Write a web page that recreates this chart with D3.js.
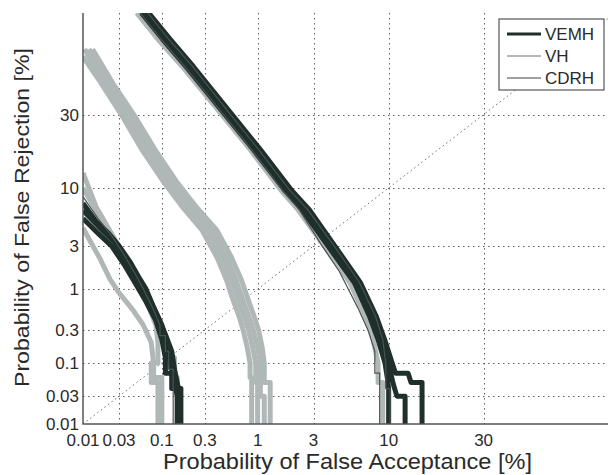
<!DOCTYPE html>
<html>
<head>
<meta charset="utf-8">
<script src="https://cdn.jsdelivr.net/npm/d3@7"></script>
<style>
  body { margin: 0; background: #fff; }
  text { font-family: "Liberation Sans", Arial, sans-serif; fill: #2a2a2a; }
</style>
</head>
<body>
<script>
// tick labels (percent)
const xTicks = [0.01, 0.03, 0.1, 0.3, 1, 3, 10, 30];
const yTicks = [0.01, 0.03, 0.1, 0.3, 1, 3, 10, 30];
const systems = ["VEMH", "VH", "CDRH"];

// DET curves, [false acceptance %, false rejection %]
// right bundle
const vemhRight1 = [[0.063,70],[0.113,60],[0.205,49],[0.525,30],[0.98,18.8],[1.84,9.7],[2.6,6.6],[4.3,2.75],[6.3,1.19],[8.0,0.45],[9.0,0.22],[10,0.1],[10.6,0.05],[11.2,0.03],[12.5,0.03],[12.5,0.01]];
const vemhRight2 = [[0.07,70],[0.125,60],[0.225,49],[0.57,30],[1.06,18.8],[1.97,9.7],[2.78,6.6],[4.55,2.75],[6.6,1.19],[8.4,0.45],[9.45,0.22],[10.5,0.1],[11,0.07],[13,0.07],[13.5,0.05],[15.5,0.05],[15.5,0.01]];
const vemhRight3 = [[0.057,70],[0.102,60],[0.186,49],[0.485,30],[0.91,18.8],[1.72,9.7],[2.43,6.6],[4.05,2.75],[6.0,1.19],[7.6,0.45],[8.6,0.22],[9.5,0.1],[9.8,0.06],[10,0.04],[10,0.01]];
const cdrhRight1 = [[0.055,70],[0.098,60],[0.18,49],[0.47,30],[0.88,18.8],[1.65,9.7],[2.3,6.6],[3.5,3.0],[4.7,1.6],[6.3,0.6],[7.4,0.3],[8.2,0.15],[8.2,0.07],[8.8,0.07],[8.8,0.01]];
const cdrhRight2 = [[0.068,70],[0.12,60],[0.22,49],[0.55,30],[1.02,18.8],[1.9,9.7],[2.7,6.6],[4.5,2.75],[6.5,1.19],[8.3,0.45],[9.2,0.22],[9.6,0.1],[9.6,0.04],[10.2,0.04],[10.2,0.01]];
const vhRight1 = [[0.05,70],[0.09,60],[0.17,49],[0.45,30],[0.85,18.8],[1.6,9.7],[2.25,6.6],[3.8,2.75],[5.6,1.19],[7.1,0.45],[8.0,0.22],[8.6,0.1],[8.6,0.05],[9.2,0.05],[9.2,0.01]];
// middle bundle
const vhMid1 = [[0.0105,56],[0.02,42],[0.036,30],[0.065,19],[0.12,11],[0.2,6.8],[0.32,4.3],[0.45,2.3],[0.56,1.3],[0.64,0.8],[0.75,0.45],[0.82,0.3],[0.9,0.17],[0.96,0.1],[0.96,0.05],[1.0,0.05],[1.0,0.01]];
const vhMid2 = [[0.012,56],[0.0226,42],[0.041,30],[0.073,19],[0.135,11],[0.225,6.8],[0.36,4.3],[0.5,2.3],[0.62,1.3],[0.71,0.8],[0.83,0.45],[0.91,0.3],[1.0,0.17],[1.06,0.1],[1.06,0.03],[1.15,0.03],[1.15,0.01]];
const vhMid3 = [[0.01,53],[0.0176,42],[0.032,30],[0.057,19],[0.106,11],[0.176,6.8],[0.28,4.3],[0.4,2.3],[0.5,1.3],[0.57,0.8],[0.67,0.45],[0.73,0.3],[0.8,0.17],[0.85,0.1],[0.85,0.06],[0.88,0.06],[0.88,0.01]];
const vhMid4 = [[0.0135,56],[0.025,42],[0.046,30],[0.082,19],[0.15,11],[0.25,6.8],[0.4,4.3],[0.56,2.3],[0.7,1.3],[0.8,0.8],[0.93,0.45],[1.02,0.3],[1.1,0.17],[1.15,0.1],[1.15,0.05],[1.3,0.05],[1.3,0.01]];
// left bundle
const vemhLeft1 = [[0.01,7.5],[0.015,5.2],[0.022,4.0],[0.03,3.0],[0.042,2.0],[0.055,1.3],[0.065,1.0],[0.08,0.6],[0.1,0.35],[0.115,0.2],[0.125,0.1],[0.14,0.05],[0.15,0.03],[0.15,0.01]];
const vemhLeft2 = [[0.01,5.5],[0.016,4.0],[0.024,3.0],[0.035,1.9],[0.05,1.1],[0.065,0.7],[0.085,0.4],[0.1,0.22],[0.11,0.12],[0.11,0.07],[0.13,0.07],[0.13,0.04],[0.16,0.04],[0.16,0.01]];
const vemhLeft3 = [[0.01,6.5],[0.017,4.5],[0.026,3.3],[0.038,2.1],[0.052,1.3],[0.07,0.8],[0.09,0.45],[0.11,0.26],[0.13,0.15],[0.14,0.08],[0.155,0.04],[0.165,0.04],[0.165,0.01]];
const cdrhLeft1 = [[0.01,8.5],[0.016,5.5],[0.024,3.8],[0.034,2.5],[0.048,1.5],[0.062,0.95],[0.08,0.55],[0.095,0.35],[0.095,0.25],[0.11,0.25],[0.11,0.15],[0.12,0.15],[0.12,0.08],[0.135,0.08],[0.135,0.01]];
const vhLeft1 = [[0.01,13],[0.012,10],[0.015,7],[0.02,5],[0.027,3.4],[0.036,2.3],[0.048,1.5],[0.065,0.9],[0.085,0.5],[0.1,0.3],[0.11,0.2],[0.11,0.12],[0.14,0.12],[0.14,0.06],[0.15,0.06],[0.15,0.01]];
const vhLeft2 = [[0.01,10],[0.014,7],[0.02,4.6],[0.028,3.0],[0.04,1.8],[0.055,1.05],[0.07,0.6],[0.085,0.35],[0.09,0.2],[0.09,0.1],[0.075,0.1],[0.075,0.05],[0.09,0.05],[0.09,0.01]];
const vhLeft3 = [[0.01,4.5],[0.013,3.2],[0.017,2.2],[0.023,1.3],[0.03,0.9],[0.045,0.55],[0.06,0.35],[0.075,0.2],[0.08,0.1],[0.08,0.06],[0.1,0.06],[0.1,0.01]];

const vemhCurves = [vemhRight1, vemhRight2, vemhRight3, vemhLeft1, vemhLeft2, vemhLeft3];
const vhCurves = [vhMid1, vhMid2, vhMid3, vhMid4, vhRight1, vhLeft1, vhLeft2, vhLeft3];
const cdrhCurves = [cdrhRight1, cdrhRight2, cdrhLeft1];

// inverse normal cdf (Acklam)
function probit(p) {
    const a = [-3.969683028665376e+01, 2.209460984245205e+02, -2.759285104469687e+02, 1.383577518672690e+02, -3.066479806614716e+01, 2.506628277459239e+00];
    const b = [-5.447609879822406e+01, 1.615858368580409e+02, -1.556989798598866e+02, 6.680131188771972e+01, -1.328068155288572e+01];
    const c = [-7.784894002430293e-03, -3.223964580411365e-01, -2.400758277161838e+00, -2.549732539343734e+00, 4.374664141464968e+00, 2.938163982698783e+00];
    const d = [7.784695709041462e-03, 3.224671290700398e-01, 2.445134137142996e+00, 3.754408661907416e+00];
    const plow = 0.02425;
    let q, r;
    if (p < plow) {
        q = Math.sqrt(-2 * Math.log(p));
        return (((((c[0]*q+c[1])*q+c[2])*q+c[3])*q+c[4])*q+c[5]) / ((((d[0]*q+d[1])*q+d[2])*q+d[3])*q+1);
    } else if (p <= 1 - plow) {
        q = p - 0.5; r = q * q;
        return (((((a[0]*r+a[1])*r+a[2])*r+a[3])*r+a[4])*r+a[5])*q / (((((b[0]*r+b[1])*r+b[2])*r+b[3])*r+b[4])*r+1);
    }
    q = Math.sqrt(-2 * Math.log(1 - p));
    return -(((((c[0]*q+c[1])*q+c[2])*q+c[3])*q+c[4])*q+c[5]) / ((((d[0]*q+d[1])*q+d[2])*q+d[3])*q+1);
}

const width = 615, height = 475;
const plotLeft = 83, plotRight = 608, plotTop = 13, plotBottom = 424;

const xs = d3.scaleLinear().domain([probit(0.0001), probit(0.68)]).range([plotLeft, plotRight]);
const ys = d3.scaleLinear().domain([probit(0.0001), probit(0.70)]).range([plotBottom, plotTop]);
const x = v => xs(probit(v / 100));
const y = v => ys(probit(v / 100));
const crisp = v => Math.round(v) + 0.5;

const svg = d3.create("svg")
    .attr("width", width)
    .attr("height", height)
    .style("background", "#fff");

svg.append("clipPath").attr("id", "plot")
    .append("rect")
    .attr("x", plotLeft).attr("y", plotTop)
    .attr("width", plotRight - plotLeft).attr("height", plotBottom - plotTop);

// dotted grid
const grid = svg.append("g")
    .attr("stroke", "#5e5e5e")
    .attr("stroke-width", 1)
    .attr("stroke-dasharray", "1.5,3.5");
grid.selectAll(".vx")
    .data(xTicks.slice(1))
    .join("line")
    .attr("class", "vx")
    .attr("x1", d => crisp(x(d))).attr("x2", d => crisp(x(d)))
    .attr("y1", plotTop).attr("y2", plotBottom);
grid.selectAll(".hy")
    .data(yTicks.slice(1))
    .join("line")
    .attr("class", "hy")
    .attr("x1", plotLeft).attr("x2", plotRight)
    .attr("y1", d => crisp(y(d))).attr("y2", d => crisp(y(d)));

// equal error line
svg.append("line")
    .attr("clip-path", "url(#plot)")
    .attr("x1", x(0.01)).attr("y1", y(0.01))
    .attr("x2", x(68)).attr("y2", y(68))
    .attr("stroke", "#6e6e6e")
    .attr("stroke-dasharray", "1.5,3");

const line = d3.line().x(d => x(d[0])).y(d => y(d[1]));
const curves = svg.append("g").attr("clip-path", "url(#plot)").attr("fill", "none")
    .attr("stroke-linejoin", "round");

curves.selectAll(".vh")
    .data(vhCurves)
    .join("path")
    .attr("class", "vh")
    .attr("d", line)
    .attr("stroke", "#b0b8b7")
    .attr("stroke-width", 5);

curves.selectAll(".vemh")
    .data(vemhCurves)
    .join("path")
    .attr("class", "vemh")
    .attr("d", line)
    .attr("stroke", "#1f2f2b")
    .attr("stroke-width", 5);

curves.selectAll(".cdrh")
    .data(cdrhCurves)
    .join("path")
    .attr("class", "cdrh")
    .attr("d", line)
    .attr("stroke", "#4a5351")
    .attr("stroke-width", 1.2);

// axes
svg.append("path")
    .attr("d", `M${plotLeft},${plotTop}V${plotBottom}H${plotRight}`)
    .attr("fill", "none")
    .attr("stroke", "#555")
    .attr("stroke-width", 1.5);

svg.append("g")
    .selectAll("text")
    .data(xTicks)
    .join("text")
    .attr("x", d => x(d))
    .attr("y", 446)
    .attr("text-anchor", "middle")
    .attr("font-size", 17)
    .text(d => d);

svg.append("g")
    .selectAll("text")
    .data(yTicks)
    .join("text")
    .attr("x", 79)
    .attr("y", d => y(d) + 6)
    .attr("text-anchor", "end")
    .attr("font-size", 17)
    .text(d => d);

svg.append("text")
    .attr("x", 163)
    .attr("y", 469)
    .attr("font-size", 22)
    .attr("textLength", 369)
    .attr("lengthAdjust", "spacingAndGlyphs")
    .text("Probability of False Acceptance [%]");

svg.append("text")
    .attr("transform", "translate(29,387) rotate(-90)")
    .attr("font-size", 21)
    .attr("textLength", 339)
    .attr("lengthAdjust", "spacingAndGlyphs")
    .text("Probability of False Rejection [%]");

// legend
const legend = svg.append("g");
legend.append("rect")
    .attr("x", 499).attr("y", 19)
    .attr("width", 105).attr("height", 71)
    .attr("fill", "#fff")
    .attr("stroke", "#555")
    .attr("stroke-width", 1.2);
const legendStyle = [
    { color: "#1f2f2b", w: 3 },
    { color: "#9aa2a1", w: 1.5 },
    { color: "#3a4341", w: 1 },
];
const ly = d3.scalePoint().domain(systems).range([34, 78]);
legend.selectAll("line")
    .data(systems)
    .join("line")
    .attr("x1", 507).attr("x2", 541)
    .attr("y1", d => ly(d)).attr("y2", d => ly(d))
    .attr("stroke", (d, i) => legendStyle[i].color)
    .attr("stroke-width", (d, i) => legendStyle[i].w);
legend.selectAll("text")
    .data(systems)
    .join("text")
    .attr("x", 545)
    .attr("y", d => ly(d) + 6)
    .attr("font-size", 17)
    .text(d => d);

document.body.appendChild(svg.node());
</script>
</body>
</html>
